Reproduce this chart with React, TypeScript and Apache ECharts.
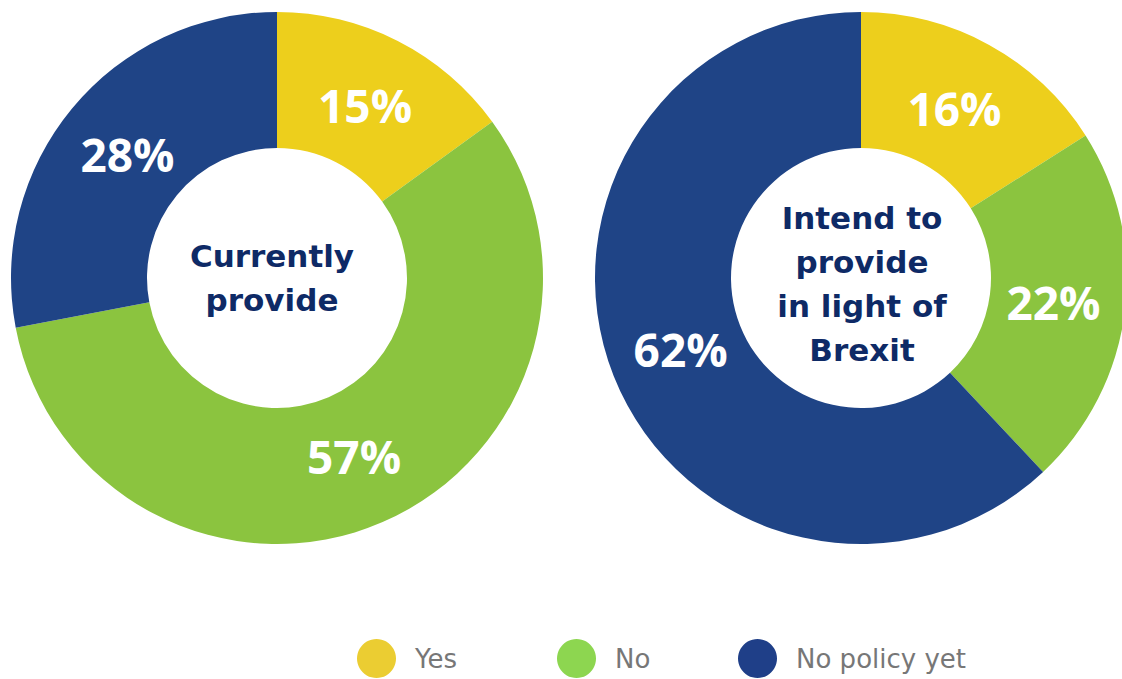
import React, { useEffect, useRef } from "react";
import * as echarts from "echarts";

const categories = ["Yes", "No", "No policy yet"];
const currentlyProvide = [15, 57, 28];
const intendToProvide = [16, 22, 62];
const sliceColors = ["#EDCF1C", "#8BC43F", "#1F4486"];
const legendColors = ["#EBCD32", "#8DD650", "#1F3F88"];
const centerTitles = ["Currently\nprovide", "Intend to\nprovide\nin light of\nBrexit"];

export default function App() {
  const ref = useRef<HTMLDivElement>(null);
  useEffect(() => {
    document.body.style.margin = "0";
    const chart = echarts.init(ref.current!, null, { renderer: "svg" });
    const centers = [277, 861];
    const cy = 278;
    const makeSeries = (vals: number[], cx: number) => ({
      type: "pie",
      center: [cx, cy],
      radius: [130, 266],
      startAngle: 90,
      clockwise: true,
      silent: true,
      avoidLabelOverlap: false,
      label: {
        show: true,
        position: "inside",
        formatter: "{c}%",
        color: "#ffffff",
        fontFamily: "Open Sans",
        fontWeight: "bold",
        fontSize: 46,
      },
      labelLayout: (p: any) => {
        const r = p.labelRect;
        const lx = r.x + r.width / 2;
        const ly = r.y + r.height / 2;
        const pcx = centers[p.seriesIndex];
        const dx = lx - pcx;
        const dy = ly - cy;
        const d = Math.sqrt(dx * dx + dy * dy);
        const k = (d - 7) / d;
        return { x: pcx + dx * k, y: cy + dy * k };
      },
      labelLine: { show: false },
      itemStyle: { borderWidth: 0 },
      data: vals.map((v, i) => ({
        name: categories[i],
        value: v,
        itemStyle: { color: sliceColors[i] },
      })),
    });
    const legendLefts = [357, 557, 738];
    chart.setOption({
      animation: false,
      legend: categories.map((c, i) => ({
        data: [{ name: c, itemStyle: { color: legendColors[i] } }],
        left: legendLefts[i],
        top: 639,
        padding: 0,
        icon: "circle",
        itemWidth: 39,
        itemHeight: 39,
        itemGap: 0,
        selectedMode: false,
        textStyle: { color: "#777777", fontSize: 26, fontFamily: "DejaVu Sans", fontWeight: "normal", padding: [0, 0, 0, 14] },
      })),
      series: [makeSeries(currentlyProvide, centers[0]), makeSeries(intendToProvide, centers[1])],
      graphic: [
        {
          type: "text",
          x: 272,
          y: 278,
          style: {
            text: centerTitles[0],
            align: "center",
            verticalAlign: "middle",
            font: "bold 31px 'DejaVu Sans'",
            fill: "#0E2A66",
            lineHeight: 44,
          },
        },
        {
          type: "text",
          x: 862,
          y: 284,
          style: {
            text: centerTitles[1],
            align: "center",
            verticalAlign: "middle",
            font: "bold 31px 'DejaVu Sans'",
            fill: "#0E2A66",
            lineHeight: 44,
          },
        },
      ],
    });
    return () => chart.dispose();
  }, []);
  return <div ref={ref} style={{ width: 1122, height: 679 }} />;
}
